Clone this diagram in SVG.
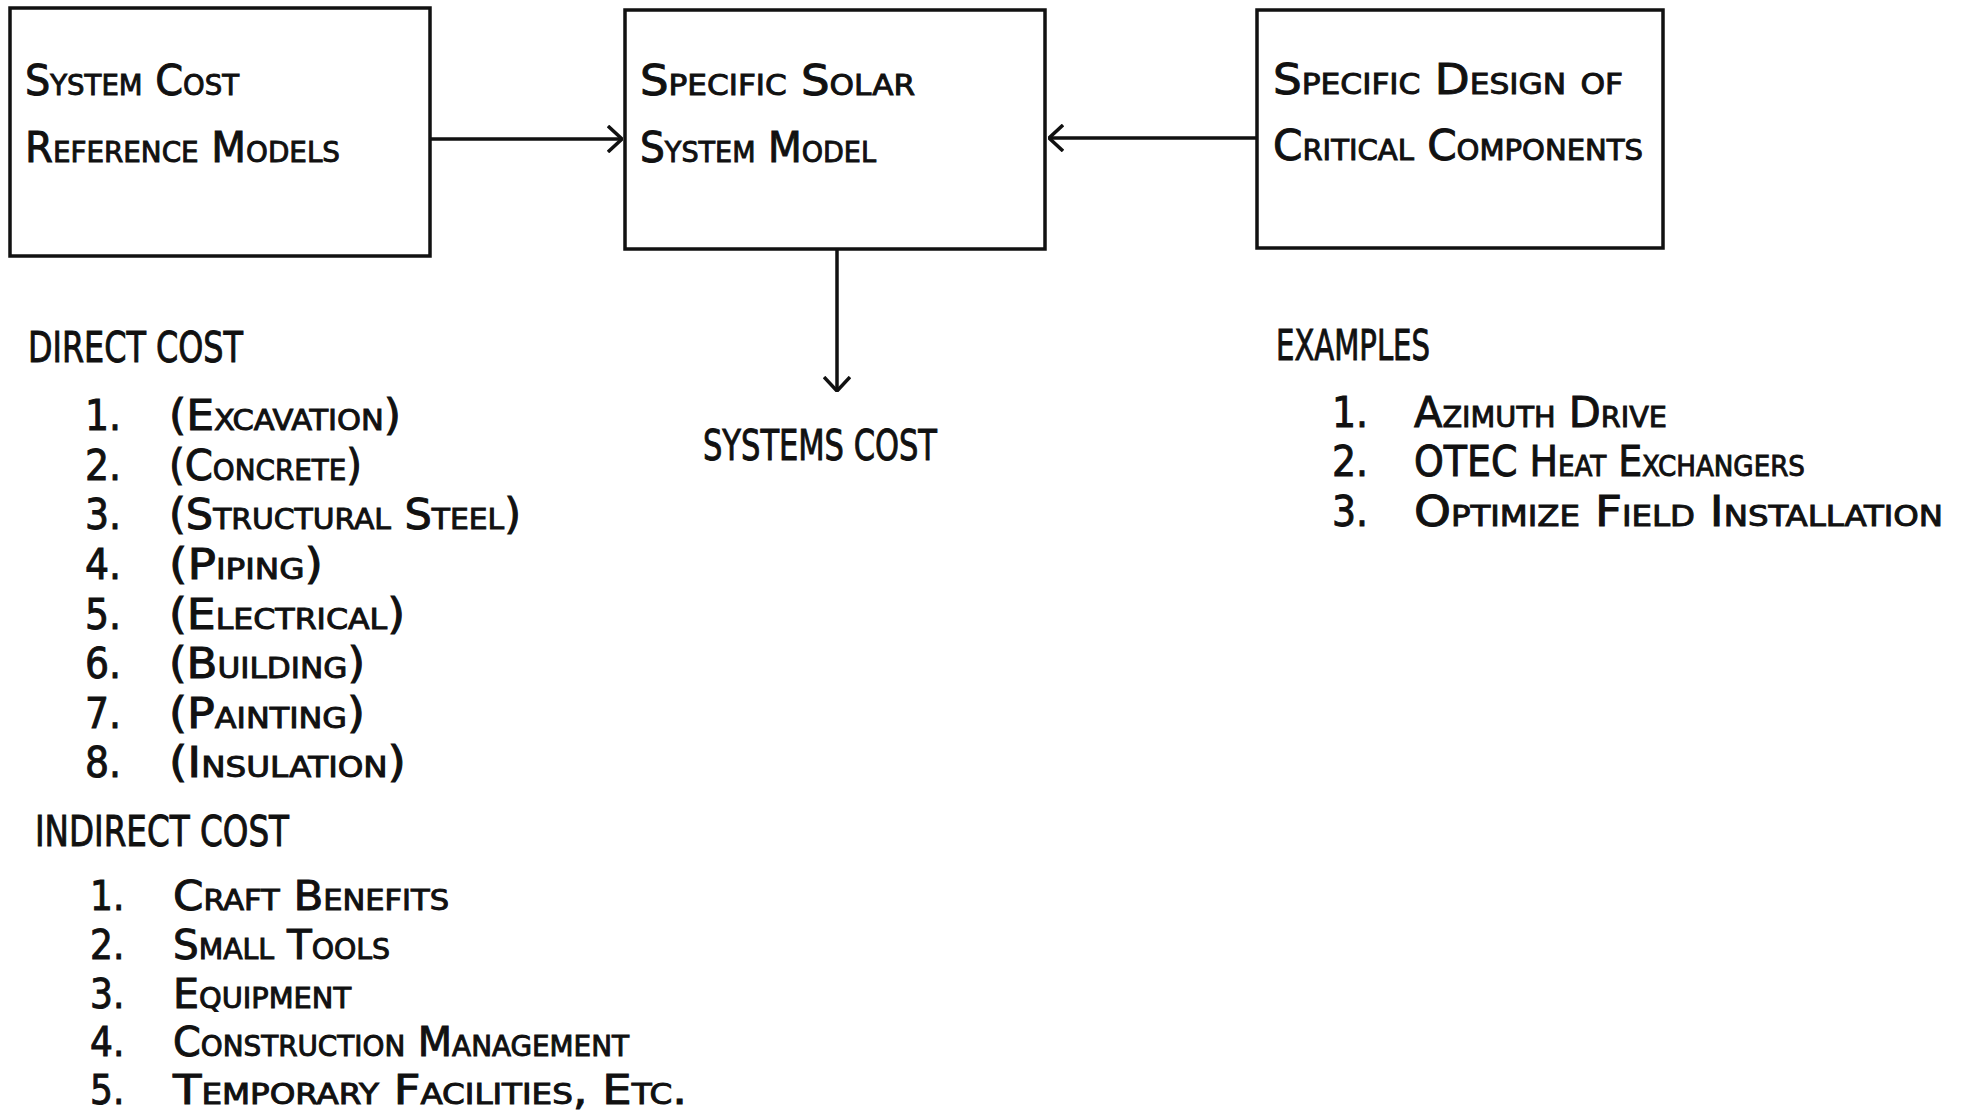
<svg xmlns="http://www.w3.org/2000/svg" width="1965" height="1115" viewBox="0 0 1965 1115">
<style>
text{font-family:"Liberation Sans Narrow","DejaVu Sans Condensed","Liberation Sans",sans-serif;font-size:42px;fill:#111;stroke:#111;stroke-width:0.9;}
.sc{font-variant:small-caps;}
.ind text{font-size:40px;}
.box{fill:#fff;stroke:#111;stroke-width:3.5;}
.conn{stroke:#111;stroke-width:3.5;fill:none;}
</style>
<defs>
<marker id="ah" viewBox="0 0 16 28" refX="15" refY="14" markerWidth="16" markerHeight="28" markerUnits="userSpaceOnUse" orient="auto">
<path d="M1,1 L15,14 L1,27" fill="none" stroke="#111" stroke-width="3.5"/>
</marker>
</defs>
<rect width="1965" height="1115" fill="#fff"/>
<g id="connectors">
<line class="conn" x1="430" y1="139" x2="622" y2="139" marker-end="url(#ah)"/>
<line class="conn" x1="1257" y1="138" x2="1049" y2="138" marker-end="url(#ah)"/>
<line class="conn" x1="837" y1="249" x2="837" y2="391" marker-end="url(#ah)"/>
</g>
<g id="node-system-cost">
<rect class="box" x="10" y="8" width="420" height="248"/>
<text class="sc" x="25" y="95" textLength="214" lengthAdjust="spacingAndGlyphs">System Cost</text>
<text class="sc" x="25" y="162" textLength="315" lengthAdjust="spacingAndGlyphs">Reference Models</text>
</g>
<g id="node-solar-model">
<rect class="box" x="625" y="10" width="420" height="239"/>
<text class="sc" x="640" y="95" textLength="275" lengthAdjust="spacingAndGlyphs">Specific Solar</text>
<text class="sc" x="640" y="162" textLength="236" lengthAdjust="spacingAndGlyphs">System Model</text>
</g>
<g id="node-critical-design">
<rect class="box" x="1257" y="10" width="406" height="238"/>
<text class="sc" x="1273" y="94" textLength="350" lengthAdjust="spacingAndGlyphs">Specific Design of</text>
<text class="sc" x="1273" y="160" textLength="370" lengthAdjust="spacingAndGlyphs">Critical Components</text>
</g>
<g id="systems-cost">
<text x="703" y="460" textLength="234" lengthAdjust="spacingAndGlyphs">SYSTEMS COST</text>
</g>
<g id="direct-cost">
<text x="28" y="362" textLength="215" lengthAdjust="spacingAndGlyphs">DIRECT COST</text>
<text x="85" y="430">1.</text><text class="sc" x="169" y="430" textLength="232" lengthAdjust="spacingAndGlyphs">(Excavation)</text>
<text x="85" y="480">2.</text><text class="sc" x="169" y="480" textLength="193" lengthAdjust="spacingAndGlyphs">(Concrete)</text>
<text x="85" y="529">3.</text><text class="sc" x="169" y="529" textLength="352" lengthAdjust="spacingAndGlyphs">(Structural Steel)</text>
<text x="85" y="579">4.</text><text class="sc" x="169" y="579" textLength="154" lengthAdjust="spacingAndGlyphs">(Piping)</text>
<text x="85" y="629">5.</text><text class="sc" x="169" y="629" textLength="236" lengthAdjust="spacingAndGlyphs">(Electrical)</text>
<text x="85" y="678">6.</text><text class="sc" x="169" y="678" textLength="196" lengthAdjust="spacingAndGlyphs">(Building)</text>
<text x="85" y="728">7.</text><text class="sc" x="169" y="728" textLength="196" lengthAdjust="spacingAndGlyphs">(Painting)</text>
<text x="85" y="777">8.</text><text class="sc" x="169" y="777" textLength="237" lengthAdjust="spacingAndGlyphs">(Insulation)</text>
</g>
<g id="indirect-cost">
<text x="35" y="846" textLength="254" lengthAdjust="spacingAndGlyphs">INDIRECT COST</text>
<g class="ind">
<text x="90" y="910">1.</text><text class="sc" x="173" y="910" textLength="276" lengthAdjust="spacingAndGlyphs">Craft Benefits</text>
<text x="90" y="959">2.</text><text class="sc" x="173" y="959" textLength="217" lengthAdjust="spacingAndGlyphs">Small Tools</text>
<text x="90" y="1008">3.</text><text class="sc" x="173" y="1008" textLength="178" lengthAdjust="spacingAndGlyphs">Equipment</text>
<text x="90" y="1056">4.</text><text class="sc" x="173" y="1056" textLength="456" lengthAdjust="spacingAndGlyphs">Construction Management</text>
<text x="90" y="1104">5.</text><text class="sc" x="173" y="1104" textLength="514" lengthAdjust="spacingAndGlyphs">Temporary Facilities, Etc.</text>
</g>
</g>
<g id="examples">
<text x="1276" y="360" textLength="154" lengthAdjust="spacingAndGlyphs">EXAMPLES</text>
<text x="1332" y="427">1.</text><text class="sc" x="1414" y="427" textLength="253" lengthAdjust="spacingAndGlyphs">Azimuth Drive</text>
<text x="1332" y="476">2.</text><text class="sc" x="1414" y="476" textLength="391" lengthAdjust="spacingAndGlyphs">OTEC Heat Exchangers</text>
<text x="1332" y="526">3.</text><text class="sc" x="1414" y="526" textLength="529" lengthAdjust="spacingAndGlyphs">Optimize Field Installation</text>
</g>
</svg>
